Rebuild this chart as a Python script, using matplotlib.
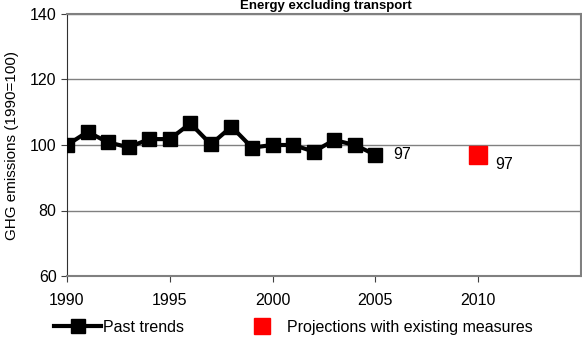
import matplotlib
matplotlib.use("Agg")
import matplotlib.pyplot as plt
from matplotlib.lines import Line2D

plt.rcParams['font.family'] = ['Liberation Sans', 'DejaVu Sans']

years = [1990, 1991, 1992, 1993, 1994, 1995, 1996, 1997, 1998, 1999,
         2000, 2001, 2002, 2003, 2004, 2005]
past = [100, 104, 100.8, 99.3, 101.8, 101.8, 106.6, 100.2, 105.6, 99.2,
        100, 100, 98, 101.5, 100, 97]
proj_year = [2010]
proj = [97]
yticks = [60, 80, 100, 120, 140]
xticks = [1990, 1995, 2000, 2005, 2010]

fig = plt.figure(figsize=(5.82, 3.39), dpi=100)
ax = fig.add_axes([67/582, 1 - 276/339, (581 - 67)/582, (276 - 14)/339])

ax.plot(years, past, color='black', lw=3, marker='s', ms=10.5, zorder=3)
ax.plot(proj_year, proj, color='red', lw=0, marker='s', ms=12.5, zorder=3)

ax.annotate(f"{past[-1]:g}", (years[-1], past[-1]), xytext=(13, 0),
            textcoords='offset points', fontsize=11.5, va='center')
ax.annotate(f"{proj[0]:g}", (proj_year[0], proj[0]), xytext=(12, -7),
            textcoords='offset points', fontsize=11.5, va='center')

ax.set_xlim(1990, 2015)
ax.set_ylim(60, 140)
ax.set_yticks(yticks)
ax.set_xticks(xticks)
ax.tick_params(labelsize=11.5, length=4, color='#404040')
ax.tick_params(axis='x', pad=8)
for y in yticks[1:]:
    ax.axhline(y, color='#808080', lw=1, zorder=1)
for s in ['top', 'right', 'bottom']:
    ax.spines[s].set_color('#808080')
    ax.spines[s].set_linewidth(1.5)
ax.spines['left'].set_color('#303030')

ax.set_ylabel("GHG emissions (1990=100)", fontsize=11, labelpad=8)
fig.text(0.56, 1 - 0.5/339, "Energy excluding transport", fontsize=9.5,
         fontweight='bold', ha='center', va='top')

handles = [Line2D([], [], color='black', lw=3, marker='s', ms=10),
           Line2D([], [], color='red', lw=0, marker='s', ms=11)]
fig.legend(handles, ["Past trends", "Projections with existing measures"],
           loc='lower left', bbox_to_anchor=(40/582, -0.03), ncol=2,
           frameon=False, fontsize=11.5, handlelength=2.9, handletextpad=0.15,
           columnspacing=3.4)

fig.savefig("out.png", dpi=100)
